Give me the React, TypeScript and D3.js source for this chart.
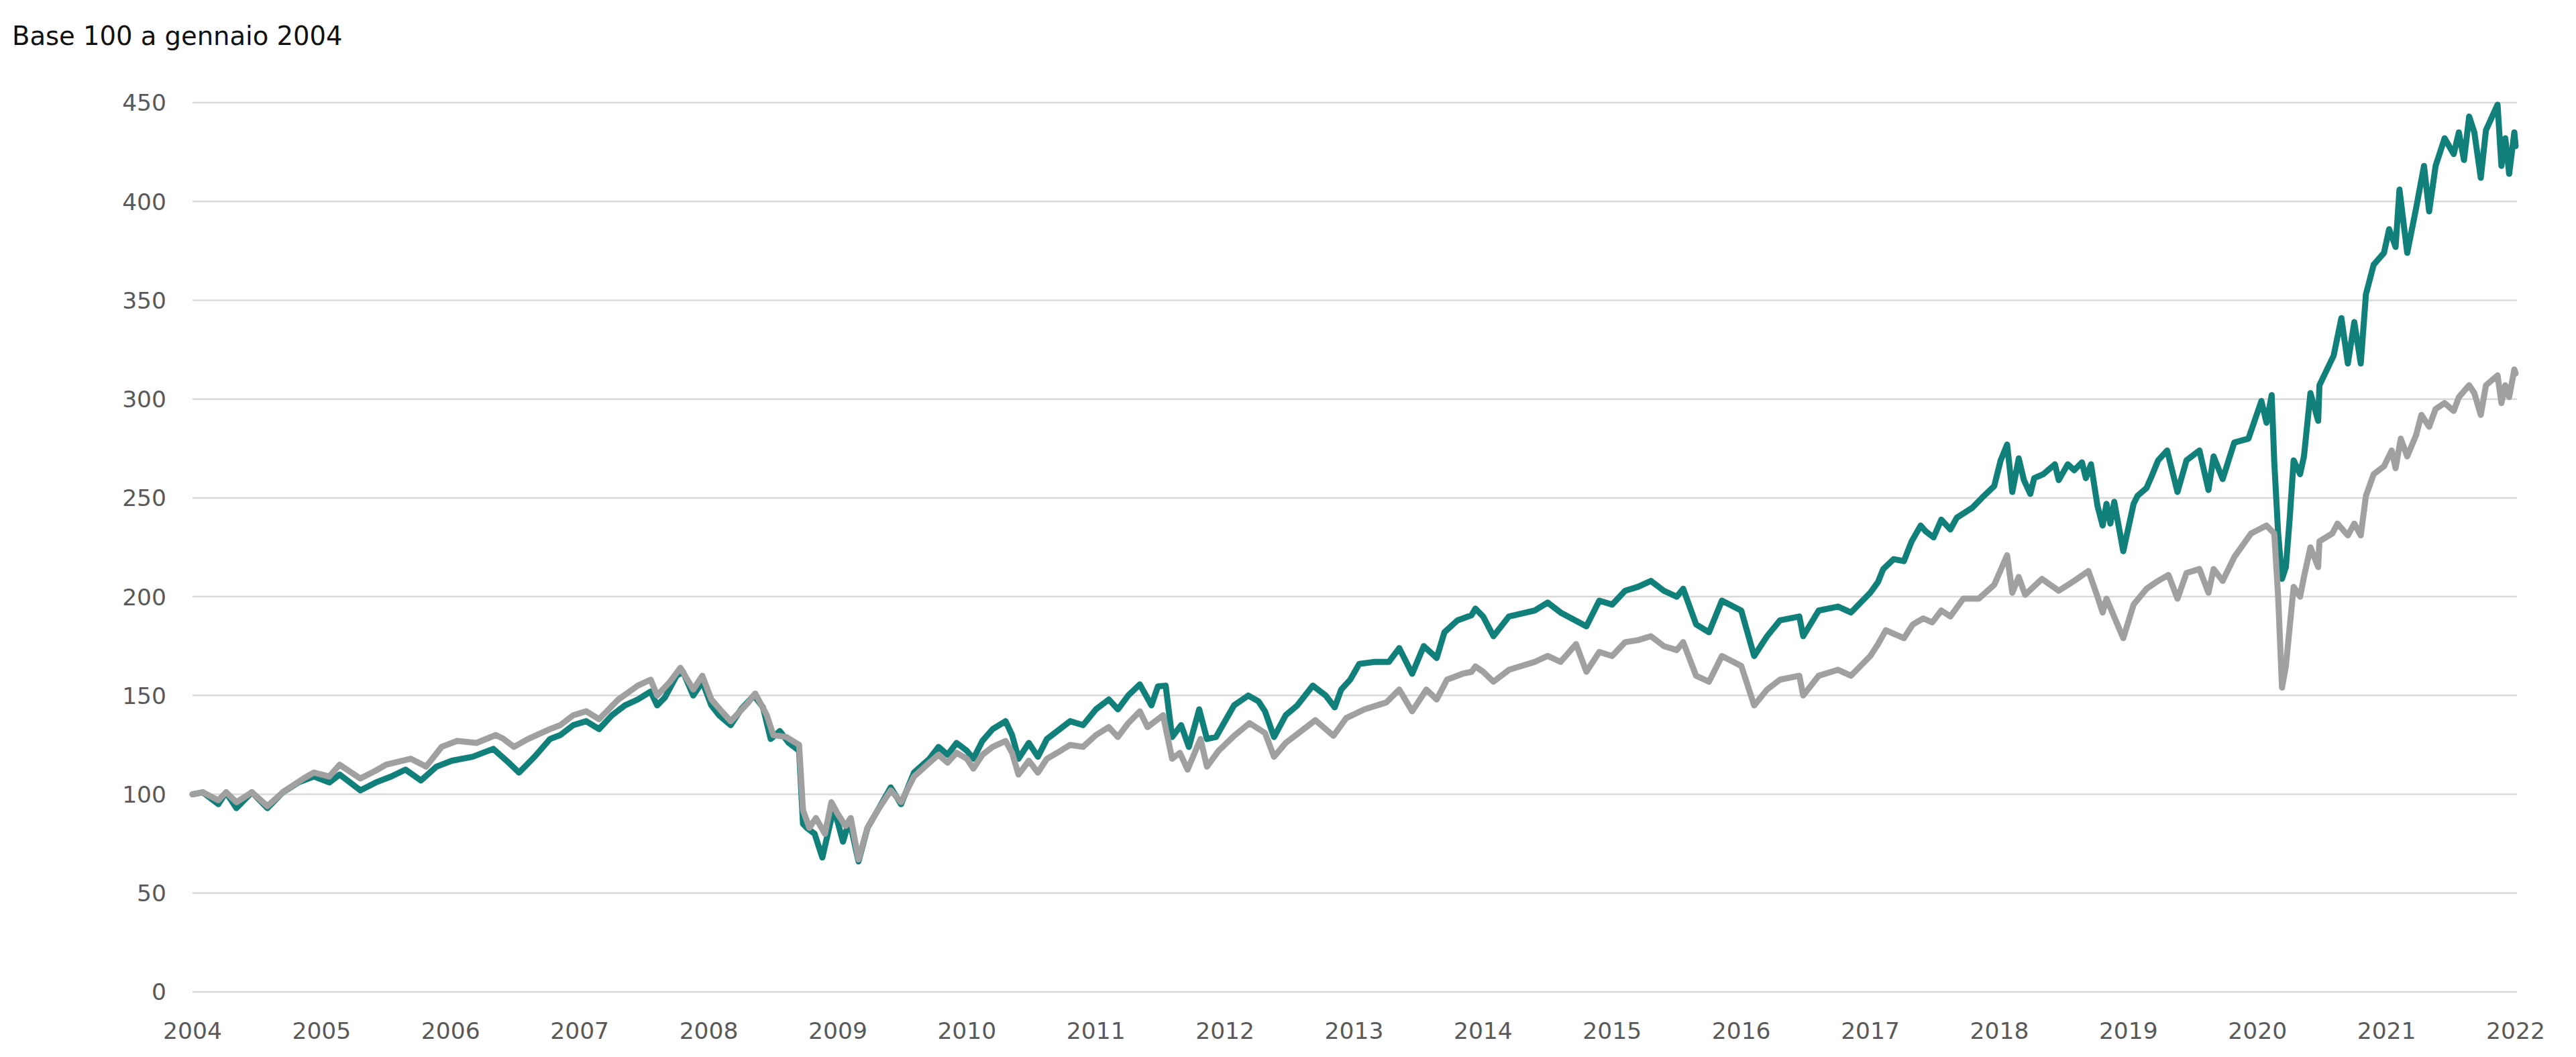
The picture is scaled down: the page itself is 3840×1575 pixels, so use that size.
import React from "react";
import * as d3 from "d3";

const titleText = "Base 100 a gennaio 2004";
const yTicks = [0, 50, 100, 150, 200, 250, 300, 350, 400, 450];
const xTicks = [2004, 2005, 2006, 2007, 2008, 2009, 2010, 2011, 2012, 2013, 2014, 2015, 2016, 2017, 2018, 2019, 2020, 2021, 2022];

// Teal series (decimal year, base 100)
const tealTimes = [
  2004.00, 2004.08, 2004.20, 2004.26, 2004.34, 2004.46, 2004.58, 2004.70, 2004.82, 2004.94,
  2005.06, 2005.14, 2005.30, 2005.42, 2005.54, 2005.65, 2005.77, 2005.89, 2006.01, 2006.17,
  2006.33, 2006.45, 2006.53, 2006.65, 2006.77, 2006.85, 2006.95, 2007.05, 2007.15, 2007.25,
  2007.35, 2007.45, 2007.55, 2007.60, 2007.66, 2007.75, 2007.80, 2007.88, 2007.95, 2008.02,
  2008.08, 2008.17, 2008.25, 2008.35, 2008.42, 2008.48, 2008.55, 2008.62, 2008.70, 2008.73,
  2008.76, 2008.82, 2008.88, 2008.94, 2008.97, 2009.04, 2009.09, 2009.16, 2009.23, 2009.31,
  2009.41, 2009.49, 2009.59, 2009.71, 2009.78, 2009.85, 2009.92, 2010.00, 2010.05, 2010.12,
  2010.20, 2010.30, 2010.35, 2010.40, 2010.48, 2010.55, 2010.62, 2010.70, 2010.80, 2010.90,
  2011.00, 2011.10, 2011.17, 2011.25, 2011.34, 2011.43, 2011.48, 2011.54, 2011.59, 2011.66,
  2011.72, 2011.80, 2011.86, 2011.93, 2012.07, 2012.18, 2012.26, 2012.31, 2012.38, 2012.47,
  2012.56, 2012.68, 2012.78, 2012.85, 2012.90, 2012.97, 2013.04, 2013.16, 2013.27, 2013.35,
  2013.45, 2013.54, 2013.64, 2013.70, 2013.80, 2013.91, 2013.94, 2014.00, 2014.08, 2014.20,
  2014.40, 2014.50, 2014.60, 2014.80, 2014.90, 2015.00, 2015.10, 2015.20, 2015.30, 2015.40,
  2015.50, 2015.55, 2015.65, 2015.75, 2015.85, 2016.00, 2016.10, 2016.20, 2016.30, 2016.45,
  2016.48, 2016.60, 2016.75, 2016.85, 2017.00, 2017.06, 2017.10, 2017.18, 2017.26, 2017.32,
  2017.39, 2017.43, 2017.49, 2017.55, 2017.62, 2017.67, 2017.79, 2017.88, 2017.96, 2018.01,
  2018.06, 2018.10, 2018.15, 2018.19, 2018.24, 2018.27, 2018.34, 2018.43, 2018.46, 2018.53,
  2018.58, 2018.64, 2018.67, 2018.71, 2018.76, 2018.80, 2018.83, 2018.86, 2018.89, 2018.96,
  2019.04, 2019.07, 2019.14, 2019.18, 2019.23, 2019.30, 2019.38, 2019.45, 2019.55, 2019.62,
  2019.66, 2019.73, 2019.82, 2019.93, 2020.03, 2020.07, 2020.11, 2020.13, 2020.16, 2020.19,
  2020.22, 2020.25, 2020.28, 2020.33, 2020.36, 2020.41, 2020.47, 2020.48, 2020.59, 2020.65,
  2020.70, 2020.75, 2020.80, 2020.84, 2020.90, 2020.98, 2021.02, 2021.07, 2021.10, 2021.16,
  2021.23, 2021.29, 2021.33, 2021.38, 2021.45, 2021.52, 2021.56, 2021.60, 2021.64, 2021.68,
  2021.73, 2021.77, 2021.86, 2021.89, 2021.92, 2021.95, 2021.99, 2022.00,
];
const tealValues = [
  100, 101, 95, 101, 93, 101, 93, 101, 106, 109,
  106, 110, 102, 106, 109, 112.5, 107, 114, 117, 119,
  123, 116, 111, 119, 128, 130, 135, 137, 133, 140,
  145, 148, 152, 145, 149, 160, 162, 150, 157, 145,
  140, 135, 143, 150, 144, 128, 132, 126, 122, 85,
  83, 80, 68, 85, 93, 76, 87, 66, 83, 92,
  103.5, 95, 111, 118, 124, 120, 126, 122, 118, 127,
  133, 137, 130, 118, 126, 119, 128, 132, 137, 135,
  143, 148, 143, 150, 155.6, 145, 154.6, 155, 129, 135,
  124, 143, 128, 129, 145, 150, 147, 142, 129, 140,
  145, 155, 150, 144, 153, 158, 166, 167, 167, 174,
  161, 175, 169, 182, 188, 190.6, 194, 190, 180, 190,
  193, 197, 192, 185, 198, 196, 203, 205, 208, 203,
  200, 204, 186, 182, 198, 193, 170, 180, 188, 190,
  180, 193, 195, 192, 202, 207.5, 214, 219, 218, 228,
  236, 233, 230, 239, 234, 240, 245, 251, 256, 269,
  277, 253, 270, 259, 252, 260, 262, 267, 259, 267,
  264, 268, 260, 267, 246, 236, 247, 237, 248, 223,
  247, 251, 255, 261, 269, 274, 253, 269, 274, 254,
  271, 259.5, 278, 280, 299, 288, 302, 268, 232, 209,
  215, 240, 269, 262, 271, 303, 289, 307, 322, 341,
  318, 339, 318, 353, 368, 374, 386, 377, 406, 374,
  397, 418, 395, 418, 432, 424, 435, 421, 443, 435,
  412, 436, 449, 418, 432, 414, 435, 428,
];

// Gray series (decimal year, base 100)
const grayTimes = [
  2004.00, 2004.08, 2004.20, 2004.26, 2004.34, 2004.46, 2004.58, 2004.70, 2004.86, 2004.94,
  2005.06, 2005.14, 2005.30, 2005.42, 2005.50, 2005.69, 2005.81, 2005.93, 2006.05, 2006.20,
  2006.35, 2006.41, 2006.49, 2006.60, 2006.77, 2006.85, 2006.95, 2007.05, 2007.15, 2007.30,
  2007.45, 2007.55, 2007.60, 2007.70, 2007.78, 2007.88, 2007.95, 2008.02, 2008.10, 2008.17,
  2008.30, 2008.36, 2008.45, 2008.50, 2008.60, 2008.70, 2008.73, 2008.78, 2008.83, 2008.90,
  2008.95, 2009.00, 2009.06, 2009.10, 2009.16, 2009.23, 2009.31, 2009.41, 2009.49, 2009.59,
  2009.71, 2009.78, 2009.85, 2009.92, 2010.00, 2010.05, 2010.12, 2010.20, 2010.30, 2010.35,
  2010.40, 2010.48, 2010.55, 2010.62, 2010.70, 2010.80, 2010.90, 2011.00, 2011.10, 2011.17,
  2011.25, 2011.34, 2011.40, 2011.52, 2011.59, 2011.65, 2011.71, 2011.81, 2011.86, 2011.95,
  2012.07, 2012.19, 2012.31, 2012.38, 2012.47, 2012.59, 2012.70, 2012.84, 2012.94, 2013.08,
  2013.25, 2013.35, 2013.45, 2013.56, 2013.64, 2013.72, 2013.84, 2013.91, 2013.94, 2014.00,
  2014.08, 2014.20, 2014.40, 2014.50, 2014.60, 2014.72, 2014.80, 2014.90, 2015.00, 2015.10,
  2015.20, 2015.30, 2015.40, 2015.50, 2015.55, 2015.65, 2015.75, 2015.85, 2016.00, 2016.10,
  2016.20, 2016.30, 2016.45, 2016.48, 2016.60, 2016.75, 2016.85, 2017.00, 2017.06, 2017.12,
  2017.26, 2017.33, 2017.41, 2017.48, 2017.55, 2017.62, 2017.72, 2017.84, 2017.96, 2018.06,
  2018.10, 2018.15, 2018.20, 2018.33, 2018.46, 2018.58, 2018.69, 2018.76, 2018.80, 2018.83,
  2018.96, 2019.04, 2019.14, 2019.23, 2019.31, 2019.38, 2019.45, 2019.55, 2019.62, 2019.66,
  2019.73, 2019.82, 2019.95, 2020.07, 2020.13, 2020.16, 2020.19, 2020.22, 2020.25, 2020.28,
  2020.33, 2020.36, 2020.41, 2020.47, 2020.48, 2020.58, 2020.62, 2020.70, 2020.75, 2020.80,
  2020.84, 2020.90, 2020.98, 2021.04, 2021.07, 2021.11, 2021.16, 2021.23, 2021.27, 2021.33,
  2021.38, 2021.45, 2021.52, 2021.56, 2021.64, 2021.68, 2021.73, 2021.77, 2021.86, 2021.89,
  2021.92, 2021.95, 2021.99, 2022.00,
];
const grayValues = [
  100, 101, 97, 101, 96, 101, 94, 101, 108, 111,
  109, 115, 108, 112, 115, 118, 114, 124, 127, 126,
  130, 128, 124, 128, 133, 135, 140, 142, 138, 148,
  155, 158, 150, 157, 164, 153, 160, 148, 142, 137,
  146, 151, 140, 130, 129, 125, 92, 83, 88, 80,
  96, 90, 84, 88, 67, 83, 92, 102, 96, 109,
  116, 120, 116, 121, 118, 113, 120, 124, 127, 121,
  110, 117, 111, 118, 121, 125, 124, 130, 134, 129,
  136, 142, 134, 140, 118, 121, 112.5, 128, 114, 122,
  129.6, 136, 131, 119, 126, 132, 137.5, 129.6, 138.6, 143,
  146.5, 153, 142, 153, 148, 158, 161, 162, 164.7, 162,
  157, 163, 167, 170, 167, 176, 162, 172, 170, 177,
  178, 180, 175, 173, 177, 160, 157, 170, 165, 145,
  153, 158, 160, 150, 160, 163, 160, 170, 176, 183,
  179, 186, 189, 187, 193, 190, 199, 199, 206, 221,
  202, 210, 201, 209, 203, 208, 213, 200, 192, 199,
  179, 196, 204, 208, 211, 199, 212, 214, 202, 214,
  208, 220, 232, 236, 232, 200, 154, 165, 185, 205,
  200, 210, 225, 215, 228, 232, 237, 231, 237, 231,
  251, 262, 266, 274, 265, 280, 271, 282, 292, 286,
  295, 298, 294, 301, 307, 303, 292, 307, 312, 298,
  307, 301, 315, 313,
];

const W = 3840;
const H = 1575;
const FONT = "'DejaVu Sans', Verdana, sans-serif";

export default function App() {
  const x = d3.scaleLinear().domain([2004, 2022]).range([287, 3750]);
  const y = d3.scaleLinear().domain([0, 450]).range([1478, 153]);

  const line = d3
    .line<[number, number]>()
    .x((d) => x(d[0]))
    .y((d) => y(d[1]))
    .curve(d3.curveLinear);

  const tealData: [number, number][] = tealTimes.map((t, i) => [t, tealValues[i]]);
  const grayData: [number, number][] = grayTimes.map((t, i) => [t, grayValues[i]]);

  return (
    <svg
      width={W}
      height={H}
      viewBox={`0 0 ${W} ${H}`}
      style={{ position: "absolute", left: 0, top: 0, background: "#ffffff" }}
    >
      <rect x={0} y={0} width={W} height={H} fill="#ffffff" />
      <text x={18} y={67} fontFamily={FONT} fontSize={38.5} fill="#111111">
        {titleText}
      </text>
      <g>
        {yTicks.map((t) => (
          <g key={t}>
            <line
              x1={x(2004)}
              x2={x(2022) + 2}
              y1={y(t)}
              y2={y(t)}
              stroke="#d9d9d9"
              strokeWidth={2.5}
            />
            <text
              x={248}
              y={y(t)}
              dy="0.36em"
              textAnchor="end"
              fontFamily={FONT}
              fontSize={34.5}
              fill="#595959"
            >
              {t}
            </text>
          </g>
        ))}
      </g>
      <g>
        {xTicks.map((t) => (
          <text
            key={t}
            x={x(t)}
            y={1548}
            textAnchor="middle"
            fontFamily={FONT}
            fontSize={34.5}
            fill="#595959"
          >
            {t}
          </text>
        ))}
      </g>
      <path
        d={line(tealData) || ""}
        fill="none"
        stroke="#11807b"
        strokeWidth={9}
        strokeLinejoin="round"
        strokeLinecap="round"
      />
      <path
        d={line(grayData) || ""}
        fill="none"
        stroke="#a0a0a0"
        strokeWidth={9}
        strokeLinejoin="round"
        strokeLinecap="round"
      />
    </svg>
  );
}
